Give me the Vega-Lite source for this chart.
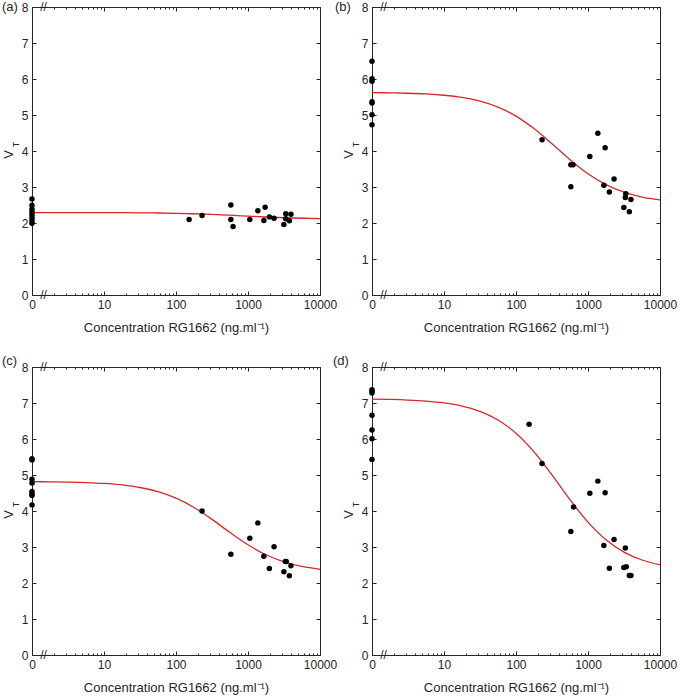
{
  "$schema": "https://vega.github.io/schema/vega-lite/v6.json",
  "background": "white",
  "padding": {"left": 1, "top": 0, "right": 0, "bottom": 0},
  "config": {
    "font": "Liberation Sans",
    "view": {"stroke": "#262626", "strokeWidth": 1},
    "axis": {"labelFont": "Liberation Sans", "labelFontSize": 12, "labelColor": "#262626", "titleFont": "Liberation Sans", "titleFontSize": 13, "titleFontWeight": "normal", "titleColor": "#262626", "tickColor": "#262626", "tickWidth": 1, "domain": false, "grid": false, "labelFlush": false, "labelOverlap": false, "labelBound": false}
  },
  "datasets": {
    "pts": [
      {"p": "a", "conc": 0, "vt": 2.67}, {"p": "a", "conc": 0, "vt": 2.49}, {"p": "a", "conc": 0, "vt": 2.38}, {"p": "a", "conc": 0, "vt": 2.30}, {"p": "a", "conc": 0, "vt": 2.22}, {"p": "a", "conc": 0, "vt": 2.14}, {"p": "a", "conc": 0, "vt": 2.06}, {"p": "a", "conc": 0, "vt": 1.99},
      {"p": "a", "conc": 152, "vt": 2.10}, {"p": "a", "conc": 230, "vt": 2.21}, {"p": "a", "conc": 578, "vt": 2.50}, {"p": "a", "conc": 578, "vt": 2.10}, {"p": "a", "conc": 620, "vt": 1.90}, {"p": "a", "conc": 1060, "vt": 2.10}, {"p": "a", "conc": 1370, "vt": 2.34}, {"p": "a", "conc": 1660, "vt": 2.07}, {"p": "a", "conc": 1730, "vt": 2.44}, {"p": "a", "conc": 1980, "vt": 2.17}, {"p": "a", "conc": 2300, "vt": 2.13}, {"p": "a", "conc": 3150, "vt": 1.96}, {"p": "a", "conc": 3350, "vt": 2.26}, {"p": "a", "conc": 3350, "vt": 2.12}, {"p": "a", "conc": 3750, "vt": 2.06}, {"p": "a", "conc": 3950, "vt": 2.24},
      {"p": "b", "conc": 0, "vt": 6.49}, {"p": "b", "conc": 0, "vt": 6.01}, {"p": "b", "conc": 0, "vt": 5.94}, {"p": "b", "conc": 0, "vt": 5.37}, {"p": "b", "conc": 0, "vt": 5.33}, {"p": "b", "conc": 0, "vt": 5.01}, {"p": "b", "conc": 0, "vt": 4.73},
      {"p": "b", "conc": 230, "vt": 4.31}, {"p": "b", "conc": 578, "vt": 3.62}, {"p": "b", "conc": 620, "vt": 3.62}, {"p": "b", "conc": 578, "vt": 3.01}, {"p": "b", "conc": 1060, "vt": 3.85}, {"p": "b", "conc": 1370, "vt": 4.49}, {"p": "b", "conc": 1660, "vt": 3.05}, {"p": "b", "conc": 1730, "vt": 4.09}, {"p": "b", "conc": 1980, "vt": 2.86}, {"p": "b", "conc": 2300, "vt": 3.22}, {"p": "b", "conc": 3150, "vt": 2.43}, {"p": "b", "conc": 3300, "vt": 2.71}, {"p": "b", "conc": 3350, "vt": 2.81}, {"p": "b", "conc": 3750, "vt": 2.31}, {"p": "b", "conc": 3950, "vt": 2.65},
      {"p": "c", "conc": 0, "vt": 5.45}, {"p": "c", "conc": 0, "vt": 5.42}, {"p": "c", "conc": 0, "vt": 4.88}, {"p": "c", "conc": 0, "vt": 4.78}, {"p": "c", "conc": 0, "vt": 4.54}, {"p": "c", "conc": 0, "vt": 4.47}, {"p": "c", "conc": 0, "vt": 4.43}, {"p": "c", "conc": 0, "vt": 4.17},
      {"p": "c", "conc": 230, "vt": 4.00}, {"p": "c", "conc": 578, "vt": 2.80}, {"p": "c", "conc": 1060, "vt": 3.24}, {"p": "c", "conc": 1370, "vt": 3.67}, {"p": "c", "conc": 1660, "vt": 2.74}, {"p": "c", "conc": 1980, "vt": 2.40}, {"p": "c", "conc": 2300, "vt": 3.01}, {"p": "c", "conc": 3150, "vt": 2.31}, {"p": "c", "conc": 3300, "vt": 2.60}, {"p": "c", "conc": 3400, "vt": 2.60}, {"p": "c", "conc": 3750, "vt": 2.20}, {"p": "c", "conc": 3950, "vt": 2.48},
      {"p": "d", "conc": 0, "vt": 7.37}, {"p": "d", "conc": 0, "vt": 7.33}, {"p": "d", "conc": 0, "vt": 7.28}, {"p": "d", "conc": 0, "vt": 6.66}, {"p": "d", "conc": 0, "vt": 6.25}, {"p": "d", "conc": 0, "vt": 6.01}, {"p": "d", "conc": 0, "vt": 5.43},
      {"p": "d", "conc": 152, "vt": 6.41}, {"p": "d", "conc": 230, "vt": 5.32}, {"p": "d", "conc": 578, "vt": 3.43}, {"p": "d", "conc": 630, "vt": 4.11}, {"p": "d", "conc": 1060, "vt": 4.49}, {"p": "d", "conc": 1370, "vt": 4.83}, {"p": "d", "conc": 1660, "vt": 3.04}, {"p": "d", "conc": 1730, "vt": 4.51}, {"p": "d", "conc": 1980, "vt": 2.41}, {"p": "d", "conc": 2300, "vt": 3.21}, {"p": "d", "conc": 3150, "vt": 2.43}, {"p": "d", "conc": 3300, "vt": 2.97}, {"p": "d", "conc": 3400, "vt": 2.45}, {"p": "d", "conc": 3750, "vt": 2.21}, {"p": "d", "conc": 3950, "vt": 2.21}
    ],
    "fit": [
      {"p": "a", "conc": 1, "vt": 2.290}, {"p": "a", "conc": 1.778, "vt": 2.290}, {"p": "a", "conc": 3.162, "vt": 2.289}, {"p": "a", "conc": 5.623, "vt": 2.289}, {"p": "a", "conc": 10, "vt": 2.288}, {"p": "a", "conc": 17.78, "vt": 2.286}, {"p": "a", "conc": 31.62, "vt": 2.283}, {"p": "a", "conc": 56.23, "vt": 2.278}, {"p": "a", "conc": 100, "vt": 2.270}, {"p": "a", "conc": 177.8, "vt": 2.257}, {"p": "a", "conc": 316.2, "vt": 2.239}, {"p": "a", "conc": 562.3, "vt": 2.216}, {"p": "a", "conc": 1000, "vt": 2.190}, {"p": "a", "conc": 1778, "vt": 2.166}, {"p": "a", "conc": 3162, "vt": 2.146}, {"p": "a", "conc": 5623, "vt": 2.132}, {"p": "a", "conc": 10000, "vt": 2.123},
      {"p": "b", "conc": 1, "vt": 5.622}, {"p": "b", "conc": 1.778, "vt": 5.615}, {"p": "b", "conc": 3.162, "vt": 5.604}, {"p": "b", "conc": 5.623, "vt": 5.584}, {"p": "b", "conc": 10, "vt": 5.548}, {"p": "b", "conc": 17.78, "vt": 5.488}, {"p": "b", "conc": 31.62, "vt": 5.386}, {"p": "b", "conc": 56.23, "vt": 5.221}, {"p": "b", "conc": 100, "vt": 4.970}, {"p": "b", "conc": 177.8, "vt": 4.624}, {"p": "b", "conc": 316.2, "vt": 4.201}, {"p": "b", "conc": 562.3, "vt": 3.760}, {"p": "b", "conc": 1000, "vt": 3.367}, {"p": "b", "conc": 1778, "vt": 3.064}, {"p": "b", "conc": 3162, "vt": 2.855}, {"p": "b", "conc": 5623, "vt": 2.721}, {"p": "b", "conc": 10000, "vt": 2.641},
      {"p": "c", "conc": 1, "vt": 4.814}, {"p": "c", "conc": 1.778, "vt": 4.810}, {"p": "c", "conc": 3.162, "vt": 4.802}, {"p": "c", "conc": 5.623, "vt": 4.789}, {"p": "c", "conc": 10, "vt": 4.765}, {"p": "c", "conc": 17.78, "vt": 4.723}, {"p": "c", "conc": 31.62, "vt": 4.653}, {"p": "c", "conc": 56.23, "vt": 4.537}, {"p": "c", "conc": 100, "vt": 4.356}, {"p": "c", "conc": 177.8, "vt": 4.098}, {"p": "c", "conc": 316.2, "vt": 3.768}, {"p": "c", "conc": 562.3, "vt": 3.403}, {"p": "c", "conc": 1000, "vt": 3.061}, {"p": "c", "conc": 1778, "vt": 2.785}, {"p": "c", "conc": 3162, "vt": 2.588}, {"p": "c", "conc": 5623, "vt": 2.459}, {"p": "c", "conc": 10000, "vt": 2.380},
      {"p": "d", "conc": 1, "vt": 7.108}, {"p": "d", "conc": 1.778, "vt": 7.099}, {"p": "d", "conc": 3.162, "vt": 7.082}, {"p": "d", "conc": 5.623, "vt": 7.053}, {"p": "d", "conc": 10, "vt": 7.003}, {"p": "d", "conc": 17.78, "vt": 6.916}, {"p": "d", "conc": 31.62, "vt": 6.768}, {"p": "d", "conc": 56.23, "vt": 6.528}, {"p": "d", "conc": 100, "vt": 6.160}, {"p": "d", "conc": 177.8, "vt": 5.643}, {"p": "d", "conc": 316.2, "vt": 5.001}, {"p": "d", "conc": 562.3, "vt": 4.315}, {"p": "d", "conc": 1000, "vt": 3.691}, {"p": "d", "conc": 1778, "vt": 3.201}, {"p": "d", "conc": 3162, "vt": 2.859}, {"p": "d", "conc": 5623, "vt": 2.639}, {"p": "d", "conc": 10000, "vt": 2.505}
    ]
  },
  "columns": 2,
  "bounds": "flush",
  "spacing": {"column": 52, "row": 72},
  "concat": [
    {
      "width": 288, "height": 288,
      "layer": [
        {"data": {"name": "fit"}, "transform": [{"filter": "datum.p == 'a'"}],
         "mark": {"type": "line", "color": "#d9262b", "strokeWidth": 1.3, "interpolate": "monotone"},
         "encoding": {
           "x": {"field": "conc", "type": "quantitative", "scale": {"type": "log", "domain": [1, 10000], "nice": false}, "axis": {"orient": "top", "values": [1, 10, 100, 1000, 10000], "tickSize": -4, "labels": false, "title": null}},
           "y": {"field": "vt", "type": "quantitative", "scale": {"domain": [0, 8], "nice": false}, "axis": {"orient": "right", "values": [0, 1, 2, 3, 4, 5, 6, 7, 8], "tickSize": -4, "labels": false, "title": null}}
         }},
        {"data": {"name": "pts"}, "transform": [{"filter": "datum.p == 'a'"}, {"calculate": "max(datum.conc, 1)", "as": "xpos"}],
         "mark": {"type": "circle", "size": 30, "color": "black", "opacity": 1},
         "encoding": {
           "x": {"field": "xpos", "type": "quantitative", "axis": {"orient": "bottom", "values": [1, 10, 100, 1000, 10000], "labelExpr": "datum.value == 1 ? '0' : format(datum.value, 'd')", "tickSize": -4, "labelPadding": 8, "title": "Concentration RG1662 (ng.ml⁻¹)", "titlePadding": 11}},
           "y": {"field": "vt", "type": "quantitative", "axis": {"orient": "left", "values": [0, 1, 2, 3, 4, 5, 6, 7, 8], "tickSize": -4, "labelPadding": 8, "title": "V", "titleX": -17, "titleY": 147}}
         }},
        {"data": {"values": [{}]},
         "mark": {"type": "text", "text": "//", "fontSize": 12, "color": "#262626", "font": "Liberation Sans"},
         "encoding": {
           "x": {"datum": 1.45, "type": "quantitative", "axis": {"orient": "bottom", "values": [2,3,4,5,6,7,8,9,20,30,40,50,60,70,80,90,200,300,400,500,600,700,800,900,2000,3000,4000,5000,6000,7000,8000,9000], "tickSize": -2, "labels": false, "title": null}},
           "y": {"datum": 0, "type": "quantitative", "axis": {"orient": "left", "labels": false, "ticks": false, "title": "T", "titleFontSize": 9, "titleX": -12, "titleY": 137}}
         }},
        {"data": {"values": [{}]},
         "mark": {"type": "text", "text": "//", "fontSize": 12, "color": "#262626", "font": "Liberation Sans"},
         "encoding": {
           "x": {"datum": 1.45, "type": "quantitative", "axis": {"orient": "top", "values": [2,3,4,5,6,7,8,9,20,30,40,50,60,70,80,90,200,300,400,500,600,700,800,900,2000,3000,4000,5000,6000,7000,8000,9000], "tickSize": -2, "labels": false, "title": null}},
           "y": {"datum": 8, "type": "quantitative", "axis": null}
         }},
        {"data": {"values": [{}]},
         "mark": {"type": "text", "text": "(a)", "fontSize": 13, "color": "#262626", "font": "Liberation Sans", "align": "left", "baseline": "middle", "dx": -30, "dy": 0},
         "encoding": {
           "x": {"datum": 1, "type": "quantitative", "axis": null},
           "y": {"datum": 8, "type": "quantitative", "axis": null}
         }}
      ],
      "resolve": {"axis": {"x": "independent", "y": "independent"}}
    },
    {
      "width": 288, "height": 288,
      "layer": [
        {"data": {"name": "fit"}, "transform": [{"filter": "datum.p == 'b'"}],
         "mark": {"type": "line", "color": "#d9262b", "strokeWidth": 1.3, "interpolate": "monotone"},
         "encoding": {
           "x": {"field": "conc", "type": "quantitative", "scale": {"type": "log", "domain": [1, 10000], "nice": false}, "axis": {"orient": "top", "values": [1, 10, 100, 1000, 10000], "tickSize": -4, "labels": false, "title": null}},
           "y": {"field": "vt", "type": "quantitative", "scale": {"domain": [0, 8], "nice": false}, "axis": {"orient": "right", "values": [0, 1, 2, 3, 4, 5, 6, 7, 8], "tickSize": -4, "labels": false, "title": null}}
         }},
        {"data": {"name": "pts"}, "transform": [{"filter": "datum.p == 'b'"}, {"calculate": "max(datum.conc, 1)", "as": "xpos"}],
         "mark": {"type": "circle", "size": 30, "color": "black", "opacity": 1},
         "encoding": {
           "x": {"field": "xpos", "type": "quantitative", "axis": {"orient": "bottom", "values": [1, 10, 100, 1000, 10000], "labelExpr": "datum.value == 1 ? '0' : format(datum.value, 'd')", "tickSize": -4, "labelPadding": 8, "title": "Concentration RG1662 (ng.ml⁻¹)", "titlePadding": 11}},
           "y": {"field": "vt", "type": "quantitative", "axis": {"orient": "left", "values": [0, 1, 2, 3, 4, 5, 6, 7, 8], "tickSize": -4, "labelPadding": 8, "title": "V", "titleX": -17, "titleY": 147}}
         }},
        {"data": {"values": [{}]},
         "mark": {"type": "text", "text": "//", "fontSize": 12, "color": "#262626", "font": "Liberation Sans"},
         "encoding": {
           "x": {"datum": 1.45, "type": "quantitative", "axis": {"orient": "bottom", "values": [2,3,4,5,6,7,8,9,20,30,40,50,60,70,80,90,200,300,400,500,600,700,800,900,2000,3000,4000,5000,6000,7000,8000,9000], "tickSize": -2, "labels": false, "title": null}},
           "y": {"datum": 0, "type": "quantitative", "axis": {"orient": "left", "labels": false, "ticks": false, "title": "T", "titleFontSize": 9, "titleX": -12, "titleY": 137}}
         }},
        {"data": {"values": [{}]},
         "mark": {"type": "text", "text": "//", "fontSize": 12, "color": "#262626", "font": "Liberation Sans"},
         "encoding": {
           "x": {"datum": 1.45, "type": "quantitative", "axis": {"orient": "top", "values": [2,3,4,5,6,7,8,9,20,30,40,50,60,70,80,90,200,300,400,500,600,700,800,900,2000,3000,4000,5000,6000,7000,8000,9000], "tickSize": -2, "labels": false, "title": null}},
           "y": {"datum": 8, "type": "quantitative", "axis": null}
         }},
        {"data": {"values": [{}]},
         "mark": {"type": "text", "text": "(b)", "fontSize": 13, "color": "#262626", "font": "Liberation Sans", "align": "left", "baseline": "middle", "dx": -37, "dy": 0},
         "encoding": {
           "x": {"datum": 1, "type": "quantitative", "axis": null},
           "y": {"datum": 8, "type": "quantitative", "axis": null}
         }}
      ],
      "resolve": {"axis": {"x": "independent", "y": "independent"}}
    },
    {
      "width": 288, "height": 288,
      "layer": [
        {"data": {"name": "fit"}, "transform": [{"filter": "datum.p == 'c'"}],
         "mark": {"type": "line", "color": "#d9262b", "strokeWidth": 1.3, "interpolate": "monotone"},
         "encoding": {
           "x": {"field": "conc", "type": "quantitative", "scale": {"type": "log", "domain": [1, 10000], "nice": false}, "axis": {"orient": "top", "values": [1, 10, 100, 1000, 10000], "tickSize": -4, "labels": false, "title": null}},
           "y": {"field": "vt", "type": "quantitative", "scale": {"domain": [0, 8], "nice": false}, "axis": {"orient": "right", "values": [0, 1, 2, 3, 4, 5, 6, 7, 8], "tickSize": -4, "labels": false, "title": null}}
         }},
        {"data": {"name": "pts"}, "transform": [{"filter": "datum.p == 'c'"}, {"calculate": "max(datum.conc, 1)", "as": "xpos"}],
         "mark": {"type": "circle", "size": 30, "color": "black", "opacity": 1},
         "encoding": {
           "x": {"field": "xpos", "type": "quantitative", "axis": {"orient": "bottom", "values": [1, 10, 100, 1000, 10000], "labelExpr": "datum.value == 1 ? '0' : format(datum.value, 'd')", "tickSize": -4, "labelPadding": 8, "title": "Concentration RG1662 (ng.ml⁻¹)", "titlePadding": 11}},
           "y": {"field": "vt", "type": "quantitative", "axis": {"orient": "left", "values": [0, 1, 2, 3, 4, 5, 6, 7, 8], "tickSize": -4, "labelPadding": 8, "title": "V", "titleX": -17, "titleY": 147}}
         }},
        {"data": {"values": [{}]},
         "mark": {"type": "text", "text": "//", "fontSize": 12, "color": "#262626", "font": "Liberation Sans"},
         "encoding": {
           "x": {"datum": 1.45, "type": "quantitative", "axis": {"orient": "bottom", "values": [2,3,4,5,6,7,8,9,20,30,40,50,60,70,80,90,200,300,400,500,600,700,800,900,2000,3000,4000,5000,6000,7000,8000,9000], "tickSize": -2, "labels": false, "title": null}},
           "y": {"datum": 0, "type": "quantitative", "axis": {"orient": "left", "labels": false, "ticks": false, "title": "T", "titleFontSize": 9, "titleX": -12, "titleY": 137}}
         }},
        {"data": {"values": [{}]},
         "mark": {"type": "text", "text": "//", "fontSize": 12, "color": "#262626", "font": "Liberation Sans"},
         "encoding": {
           "x": {"datum": 1.45, "type": "quantitative", "axis": {"orient": "top", "values": [2,3,4,5,6,7,8,9,20,30,40,50,60,70,80,90,200,300,400,500,600,700,800,900,2000,3000,4000,5000,6000,7000,8000,9000], "tickSize": -2, "labels": false, "title": null}},
           "y": {"datum": 8, "type": "quantitative", "axis": null}
         }},
        {"data": {"values": [{}]},
         "mark": {"type": "text", "text": "(c)", "fontSize": 13, "color": "#262626", "font": "Liberation Sans", "align": "left", "baseline": "middle", "dx": -30, "dy": -6},
         "encoding": {
           "x": {"datum": 1, "type": "quantitative", "axis": null},
           "y": {"datum": 8, "type": "quantitative", "axis": null}
         }}
      ],
      "resolve": {"axis": {"x": "independent", "y": "independent"}}
    },
    {
      "width": 288, "height": 288,
      "layer": [
        {"data": {"name": "fit"}, "transform": [{"filter": "datum.p == 'd'"}],
         "mark": {"type": "line", "color": "#d9262b", "strokeWidth": 1.3, "interpolate": "monotone"},
         "encoding": {
           "x": {"field": "conc", "type": "quantitative", "scale": {"type": "log", "domain": [1, 10000], "nice": false}, "axis": {"orient": "top", "values": [1, 10, 100, 1000, 10000], "tickSize": -4, "labels": false, "title": null}},
           "y": {"field": "vt", "type": "quantitative", "scale": {"domain": [0, 8], "nice": false}, "axis": {"orient": "right", "values": [0, 1, 2, 3, 4, 5, 6, 7, 8], "tickSize": -4, "labels": false, "title": null}}
         }},
        {"data": {"name": "pts"}, "transform": [{"filter": "datum.p == 'd'"}, {"calculate": "max(datum.conc, 1)", "as": "xpos"}],
         "mark": {"type": "circle", "size": 30, "color": "black", "opacity": 1},
         "encoding": {
           "x": {"field": "xpos", "type": "quantitative", "axis": {"orient": "bottom", "values": [1, 10, 100, 1000, 10000], "labelExpr": "datum.value == 1 ? '0' : format(datum.value, 'd')", "tickSize": -4, "labelPadding": 8, "title": "Concentration RG1662 (ng.ml⁻¹)", "titlePadding": 11}},
           "y": {"field": "vt", "type": "quantitative", "axis": {"orient": "left", "values": [0, 1, 2, 3, 4, 5, 6, 7, 8], "tickSize": -4, "labelPadding": 8, "title": "V", "titleX": -17, "titleY": 147}}
         }},
        {"data": {"values": [{}]},
         "mark": {"type": "text", "text": "//", "fontSize": 12, "color": "#262626", "font": "Liberation Sans"},
         "encoding": {
           "x": {"datum": 1.45, "type": "quantitative", "axis": {"orient": "bottom", "values": [2,3,4,5,6,7,8,9,20,30,40,50,60,70,80,90,200,300,400,500,600,700,800,900,2000,3000,4000,5000,6000,7000,8000,9000], "tickSize": -2, "labels": false, "title": null}},
           "y": {"datum": 0, "type": "quantitative", "axis": {"orient": "left", "labels": false, "ticks": false, "title": "T", "titleFontSize": 9, "titleX": -12, "titleY": 137}}
         }},
        {"data": {"values": [{}]},
         "mark": {"type": "text", "text": "//", "fontSize": 12, "color": "#262626", "font": "Liberation Sans"},
         "encoding": {
           "x": {"datum": 1.45, "type": "quantitative", "axis": {"orient": "top", "values": [2,3,4,5,6,7,8,9,20,30,40,50,60,70,80,90,200,300,400,500,600,700,800,900,2000,3000,4000,5000,6000,7000,8000,9000], "tickSize": -2, "labels": false, "title": null}},
           "y": {"datum": 8, "type": "quantitative", "axis": null}
         }},
        {"data": {"values": [{}]},
         "mark": {"type": "text", "text": "(d)", "fontSize": 13, "color": "#262626", "font": "Liberation Sans", "align": "left", "baseline": "middle", "dx": -39, "dy": -6},
         "encoding": {
           "x": {"datum": 1, "type": "quantitative", "axis": null},
           "y": {"datum": 8, "type": "quantitative", "axis": null}
         }}
      ],
      "resolve": {"axis": {"x": "independent", "y": "independent"}}
    }
  ]
}
